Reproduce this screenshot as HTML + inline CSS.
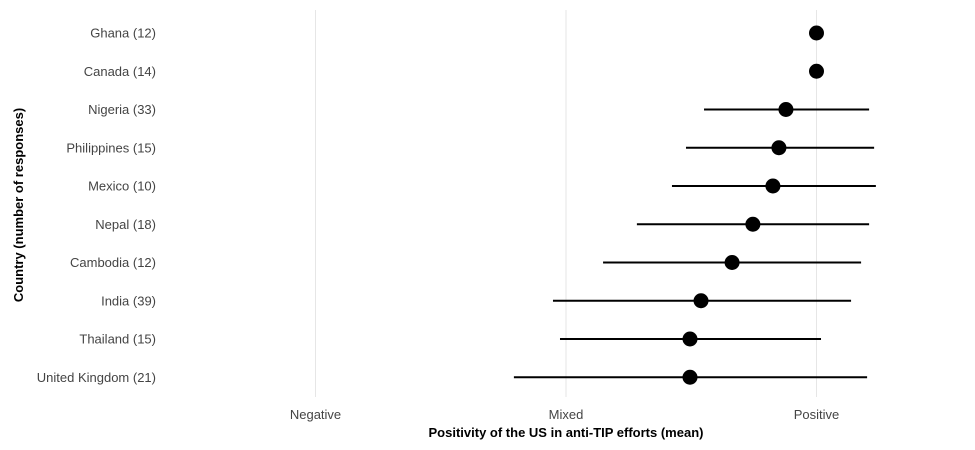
<!DOCTYPE html>
<html><head><meta charset="utf-8">
<style>
html,body{margin:0;padding:0;background:#fff;}
svg{display:block;font-family:"Liberation Sans",sans-serif;}
</style></head>
<body>
<svg id="chart" width="975" height="450" viewBox="0 0 975 450" xmlns="http://www.w3.org/2000/svg">
<g id="grid"></g>
<g id="marks"></g>
<g id="ylabels"></g>
<g id="xlabels"></g>
<text x="566" y="437" text-anchor="middle" font-size="13" font-weight="bold" fill="#000">Positivity of the US in anti-TIP efforts (mean)</text>
<text transform="translate(23,205) rotate(-90)" text-anchor="middle" font-size="13" font-weight="bold" fill="#000">Country (number of responses)</text>
</svg>
<script>
const categories=["Ghana (12)","Canada (14)","Nigeria (33)","Philippines (15)","Mexico (10)","Nepal (18)","Cambodia (12)","India (39)","Thailand (15)","United Kingdom (21)"];
const means=[1,1,0.878,0.85,0.826,0.746,0.663,0.539,0.495,0.495];
const lows=[null,null,0.551,0.479,0.423,0.283,0.148,-0.052,-0.024,-0.208];
const highs=[null,null,1.21,1.23,1.237,1.21,1.178,1.138,1.018,1.202];
const tickValues=[-1,0,1];
const tickLabels=["Negative","Mixed","Positive"];
const NS="http://www.w3.org/2000/svg";
const x=v=>566+v*250.5;
const y=i=>33+i*38.25;
function mk(t,a,p){const e=document.createElementNS(NS,t);for(const k in a)e.setAttribute(k,a[k]);p.appendChild(e);return e;}
const grid=document.getElementById('grid'),marks=document.getElementById('marks'),yl=document.getElementById('ylabels'),xl=document.getElementById('xlabels');
tickValues.forEach((v,i)=>{
 const g=mk('line',{x1:x(v),x2:x(v),y1:10,y2:397,stroke:'#e6e6e6','stroke-width':1},grid);
 
 
 const t=mk('text',{x:x(v),y:419,'text-anchor':'middle','font-size':13,fill:'#444'},xl);
 t.textContent=tickLabels[i];
 
 
});
categories.forEach((c,i)=>{
 const t=mk('text',{x:156,y:y(i)+4.5,'text-anchor':'end','font-size':13,fill:'#444'},yl);
 t.textContent=c;
 
 
 if(lows[i]!==null){
  const l=mk('line',{x1:x(lows[i]),x2:x(highs[i]),y1:y(i),y2:y(i),stroke:'#000','stroke-width':2},marks);
  
  
 }
 const p=mk('circle',{cx:x(means[i]),cy:y(i),r:7.5,fill:'#000'},marks);
 
 
});
</script>
</body></html>
